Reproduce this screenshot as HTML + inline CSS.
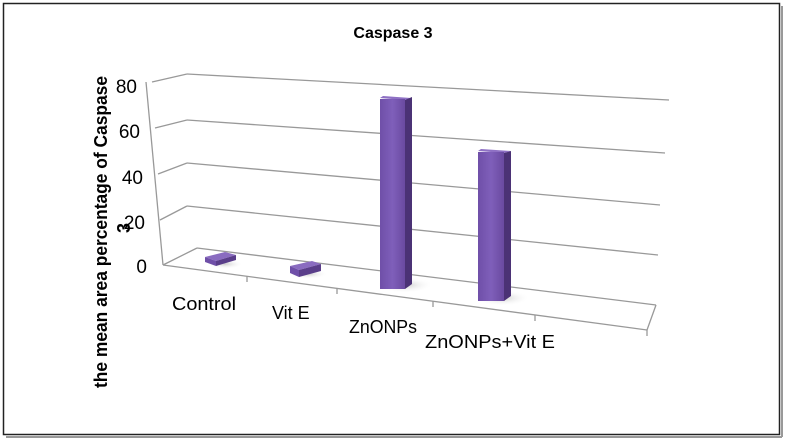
<!DOCTYPE html>
<html><head><style>body{margin:0;background:#fff}</style></head><body>
<svg width="786" height="441" viewBox="0 0 786 441" xmlns="http://www.w3.org/2000/svg" font-family="'Liberation Sans',sans-serif">
<defs>
<linearGradient id="f" x1="0" x2="1"><stop offset="0" stop-color="#6f4fa8"/><stop offset="0.5" stop-color="#7f5fba"/><stop offset="1" stop-color="#6a4aa0"/></linearGradient>
<radialGradient id="sh"><stop offset="0" stop-color="#aaa" stop-opacity="0.6"/><stop offset="1" stop-color="#fff" stop-opacity="0"/></radialGradient>
</defs>
<rect x="3.5" y="3.5" width="776" height="431" fill="#fff" stroke="#222" stroke-width="1.5"/>
<line x1="6" y1="437" x2="782" y2="437" stroke="#999" stroke-width="2"/>
<line x1="782" y1="6" x2="782" y2="437" stroke="#999" stroke-width="2"/>
<text x="393" y="38" font-size="16" font-weight="bold" text-anchor="middle">Caspase 3</text>
<g stroke="#999" stroke-width="1.3" fill="none">
<line x1="187" y1="74" x2="669" y2="100"/>
<line x1="187" y1="120" x2="665" y2="153"/>
<line x1="187" y1="163" x2="660" y2="205"/>
<line x1="187" y1="206" x2="658" y2="255"/>
<line x1="197" y1="248" x2="656" y2="305"/>
<line x1="152" y1="82" x2="187" y2="74"/>
<line x1="155" y1="128" x2="187" y2="120"/>
<line x1="158" y1="174" x2="187" y2="163"/>
<line x1="160" y1="220" x2="187" y2="206"/>
<line x1="163" y1="265" x2="197" y2="248"/>
<line x1="146" y1="82" x2="163" y2="265"/>
<line x1="163" y1="265" x2="647" y2="330"/>
<line x1="656" y1="305" x2="647" y2="330"/>
<line x1="647" y1="330" x2="647" y2="336"/>
<line x1="247" y1="276" x2="247" y2="282"/>
<line x1="337" y1="288" x2="337" y2="294"/>
<line x1="433" y1="301" x2="433" y2="307"/>
<line x1="535" y1="315" x2="535" y2="321"/>
</g>
<g font-size="19" text-anchor="end">
<text x="137" y="93">80</text><text x="140" y="138">60</text><text x="143" y="184">40</text><text x="145" y="229">20</text><text x="147" y="273">0</text>
</g>
<text transform="translate(107,232) rotate(-90)" font-size="18" font-weight="bold" text-anchor="middle" textLength="312" lengthAdjust="spacingAndGlyphs">the mean area percentage of Caspase</text>
<text transform="translate(130,228) rotate(-90)" font-size="18" font-weight="bold" text-anchor="middle">3</text>
<g font-size="18">
<text x="172" y="310" textLength="64" lengthAdjust="spacingAndGlyphs">Control</text><text x="272" y="319">Vit E</text><text x="349" y="333" textLength="68" lengthAdjust="spacingAndGlyphs">ZnONPs</text><text x="425" y="348" textLength="130" lengthAdjust="spacingAndGlyphs">ZnONPs+Vit E</text>
</g>
<ellipse cx="225" cy="264" rx="18" ry="5" fill="url(#sh)"/>
<ellipse cx="308" cy="274" rx="20" ry="5" fill="url(#sh)"/>
<ellipse cx="405" cy="285" rx="28" ry="8" fill="url(#sh)"/>
<ellipse cx="502" cy="298" rx="28" ry="8" fill="url(#sh)"/>
<polygon points="205,257 225,252 236,255 216,261" fill="#8a6cc0"/>
<polygon points="205,257 216,261 216,266 205,262" fill="#6f4fa8"/>
<polygon points="216,261 236,255 236,260 216,266" fill="#5a3e8a"/>
<polygon points="290,266 312,261 321,264 299,270" fill="#8a6cc0"/>
<polygon points="290,266 299,270 299,277 290,273" fill="#6f4fa8"/>
<polygon points="299,270 321,264 321,271 299,277" fill="#5a3e8a"/>
<polygon points="380,98 383,96 411,98 405,100" fill="#8e70c4"/>
<rect x="380" y="99" width="25" height="190" fill="url(#f)"/>
<polygon points="405,100 412,97 412,284 405,289" fill="#4b3275"/>
<polygon points="478,151 481,149 511,151 504,153" fill="#8e70c4"/>
<rect x="478" y="152" width="26" height="149" fill="url(#f)"/>
<polygon points="504,153 511,151 511,296 504,301" fill="#4b3275"/>
</svg>
</body></html>
